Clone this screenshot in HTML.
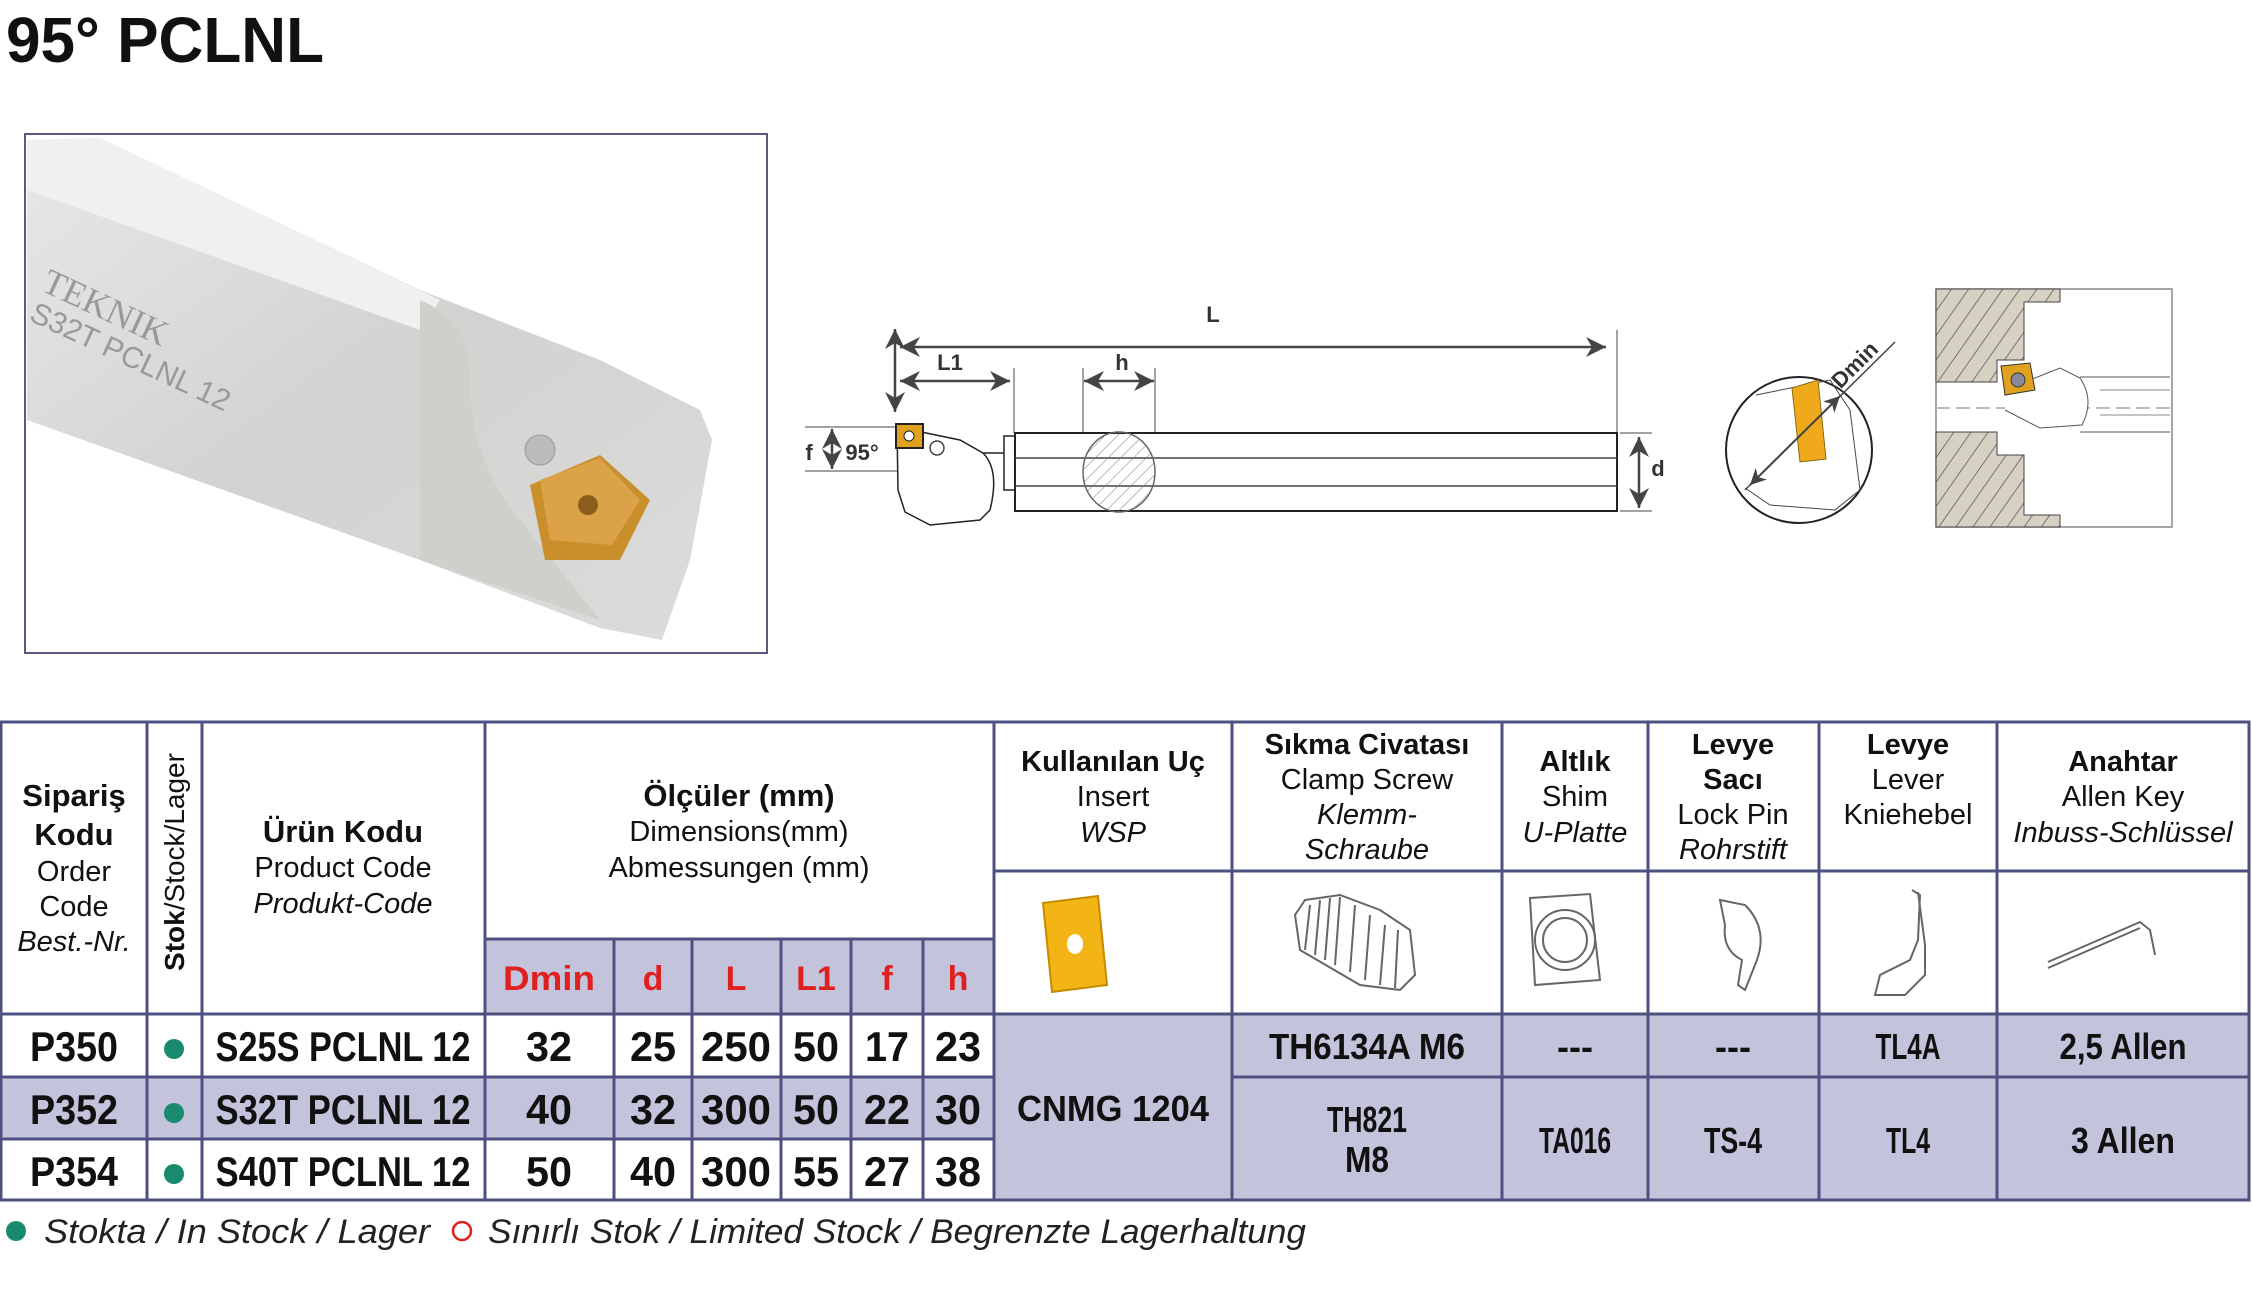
<!DOCTYPE html>
<html><head><meta charset="utf-8"><style>
html,body{margin:0;padding:0;background:#fff;}
svg{display:block;}
</style></head><body>
<svg width="2252" height="1295" viewBox="0 0 2252 1295" xmlns="http://www.w3.org/2000/svg" font-family="'Liberation Sans', sans-serif">
<defs>
<pattern id="hatch" width="14" height="14" patternUnits="userSpaceOnUse" patternTransform="rotate(35)">
<rect width="14" height="14" fill="#d6d1c2"/><line x1="0" y1="0" x2="0" y2="14" stroke="#555" stroke-width="1.5"/></pattern>
<pattern id="hatch2" width="9" height="9" patternUnits="userSpaceOnUse" patternTransform="rotate(45)">
<line x1="0" y1="0" x2="0" y2="9" stroke="#777" stroke-width="1"/></pattern>
<linearGradient id="bar" x1="0" y1="0" x2="1" y2="1">
<stop offset="0" stop-color="#e8e8e6"/><stop offset="0.5" stop-color="#d2d2d0"/><stop offset="1" stop-color="#dcdcda"/></linearGradient>
<marker id="ar" viewBox="0 0 10 10" refX="10" refY="5" markerWidth="8" markerHeight="8" orient="auto-start-reverse"><path d="M0,0 L10,5 L0,10 L3,5z" fill="#444"/></marker>
</defs>

<text x="6" y="62" font-size="64" font-weight="bold" fill="#111" textLength="318" lengthAdjust="spacingAndGlyphs">95° PCLNL</text>

<!-- photo -->
<rect x="25" y="134" width="742" height="519" fill="#fff" stroke="#5a5a80" stroke-width="2"/>
<polygon points="27,140 100,138 420,290 600,360 700,410 712,440 690,560 662,640 600,628 420,560 27,420" fill="url(#bar)"/>
<polygon points="27,140 100,138 440,300 420,330 27,190" fill="#f0f0ee"/>
<path d="M420,300 Q470,320 470,380 Q470,460 520,520 L600,620 L420,560 Z" fill="#cfcfcc"/>
<polygon points="530,485 600,455 650,500 620,560 545,560" fill="#c98f2c"/>
<polygon points="540,480 600,458 640,500 612,545 550,540" fill="#dba247"/>
<circle cx="588" cy="505" r="10" fill="#8a5d1c"/>
<circle cx="540" cy="450" r="15" fill="#bbb" stroke="#999"/>
<text x="40" y="290" font-size="36" fill="#999" transform="rotate(25 40 290)" font-family="'Liberation Serif',serif">TEKNIK</text>
<text x="28" y="320" font-size="30" fill="#999" transform="rotate(25 28 320)">S32T PCLNL 12</text>

<!-- main drawing -->
<g stroke="#444" fill="none" stroke-width="1.5">
<line x1="900" y1="347" x2="1606" y2="347" stroke-width="2.5" marker-start="url(#ar)" marker-end="url(#ar)"/>
<line x1="895" y1="329" x2="895" y2="412" stroke-width="2.5" marker-start="url(#ar)" marker-end="url(#ar)"/>
<line x1="900" y1="381" x2="1010" y2="381" stroke-width="2.5" marker-start="url(#ar)" marker-end="url(#ar)"/>
<line x1="1084" y1="381" x2="1154" y2="381" stroke-width="2.5" marker-start="url(#ar)" marker-end="url(#ar)"/>
<line x1="1639" y1="437" x2="1639" y2="508" stroke-width="2.5" marker-start="url(#ar)" marker-end="url(#ar)"/>
<line x1="832" y1="429" x2="832" y2="469" stroke-width="2.5" marker-start="url(#ar)" marker-end="url(#ar)"/>
<line x1="1014" y1="368" x2="1014" y2="433" stroke-width="1"/>
<line x1="1083" y1="368" x2="1083" y2="433" stroke-width="1"/>
<line x1="1155" y1="368" x2="1155" y2="433" stroke-width="1"/>
<line x1="1617" y1="330" x2="1617" y2="433" stroke-width="1"/>
<line x1="805" y1="427" x2="900" y2="427" stroke-width="1"/>
<line x1="805" y1="471" x2="898" y2="471" stroke-width="1"/>
<line x1="1620" y1="433" x2="1652" y2="433" stroke-width="1"/>
<line x1="1620" y1="511" x2="1652" y2="511" stroke-width="1"/>
<rect x="1015" y="433" width="602" height="78" stroke="#222" stroke-width="2"/>
<line x1="1015" y1="458" x2="1617" y2="458"/>
<line x1="1015" y1="486" x2="1617" y2="486"/>
<ellipse cx="1119" cy="472" rx="36" ry="40" fill="url(#hatch2)" stroke="#666"/>
<path d="M897,427 L960,440 L983,453 L1004,453 L1004,490 L1014,490 M1004,453 L1004,436 L1015,436 M983,453 Q1000,470 990,510 L980,520 L930,525 L905,512 L898,490 L897,427" stroke="#222"/>
<circle cx="937" cy="448" r="7"/>
</g>
<rect x="896" y="424" width="27" height="24" fill="#e0a21e" stroke="#222" stroke-width="2"/>
<circle cx="909" cy="436" r="5" fill="#fff" stroke="#222"/>
<g font-size="22" font-weight="bold" fill="#333" text-anchor="middle">
<text x="1213" y="322">L</text><text x="950" y="370">L1</text><text x="1122" y="370">h</text>
<text x="1658" y="476">d</text><text x="809" y="460">f</text><text x="862" y="460">95°</text>
</g>

<!-- circle diagram -->
<circle cx="1799" cy="450" r="73" fill="#fff" stroke="#222" stroke-width="2"/>
<path d="M1756,395 L1830,380 L1850,410 L1860,490 L1835,510 L1770,505 L1745,488" fill="none" stroke="#444" stroke-width="1"/>
<polygon points="1792,388 1818,380 1826,459 1800,462" fill="#f0a91a" stroke="#8a6a10"/>
<line x1="1745" y1="490" x2="1895" y2="342" stroke="#444" stroke-width="1.5"/>
<line x1="1750" y1="485" x2="1840" y2="396" stroke="#444" stroke-width="2" marker-start="url(#ar)" marker-end="url(#ar)"/>
<text x="1860" y="370" font-size="22" font-weight="bold" fill="#333" text-anchor="middle" transform="rotate(-45 1860 370)">Dmin</text>

<!-- section -->
<rect x="1936" y="289" width="236" height="238" fill="#fff" stroke="#888" stroke-width="1.5"/>
<polygon points="1936,289 2060,289 2060,302 2024,302 2024,360 1997,360 1997,382 1936,382" fill="url(#hatch)" stroke="#444"/>
<polygon points="1936,432 1997,432 1997,455 2024,455 2024,515 2060,515 2060,527 1936,527" fill="url(#hatch)" stroke="#444"/>
<line x1="1936" y1="408" x2="2172" y2="408" stroke="#bbb" stroke-width="2" stroke-dasharray="14 6"/>
<path d="M2005,390 L2060,368 L2080,378 Q2095,400 2082,425 L2040,428 L2005,410" fill="#fff" stroke="#555"/>
<line x1="2080" y1="377" x2="2170" y2="377" stroke="#555"/><line x1="2080" y1="432" x2="2170" y2="432" stroke="#555"/>
<line x1="2100" y1="390" x2="2170" y2="390" stroke="#888"/><line x1="2100" y1="415" x2="2170" y2="415" stroke="#888"/>
<polygon points="2001,366 2030,363 2035,390 2005,395" fill="#e0a21e" stroke="#333"/>
<circle cx="2018" cy="380" r="7" fill="#889" stroke="#333"/>

<!-- table -->
<g fill="#c3c3dc">
<rect x="485" y="939" width="509" height="75"/>
<rect x="0" y="1077" width="994" height="62"/>
<rect x="994" y="1014" width="1255" height="186"/>
</g>
<g stroke="#4d5080" stroke-width="3" fill="none">
<rect x="1" y="722" width="2248" height="478"/>
<line x1="1" y1="1014" x2="2249" y2="1014"/>
<line x1="1" y1="1077" x2="994" y2="1077"/>
<line x1="1" y1="1139" x2="994" y2="1139"/>
<line x1="1232" y1="1077" x2="2249" y2="1077"/>
<line x1="485" y1="939" x2="994" y2="939"/>
<line x1="994" y1="871" x2="2249" y2="871"/>
<line x1="147" y1="722" x2="147" y2="1200"/>
<line x1="202" y1="722" x2="202" y2="1200"/>
<line x1="485" y1="722" x2="485" y2="1200"/>
<line x1="614" y1="939" x2="614" y2="1200"/>
<line x1="692" y1="939" x2="692" y2="1200"/>
<line x1="781" y1="939" x2="781" y2="1200"/>
<line x1="851" y1="939" x2="851" y2="1200"/>
<line x1="923" y1="939" x2="923" y2="1200"/>
<line x1="994" y1="722" x2="994" y2="1200"/>
<line x1="1232" y1="722" x2="1232" y2="1200"/>
<line x1="1502" y1="722" x2="1502" y2="1200"/>
<line x1="1648" y1="722" x2="1648" y2="1200"/>
<line x1="1819" y1="722" x2="1819" y2="1200"/>
<line x1="1997" y1="722" x2="1997" y2="1200"/>
</g>

<g text-anchor="middle" fill="#111" font-size="29">
<text x="74" y="806" font-weight="bold" font-size="31">Sipariş</text>
<text x="74" y="845" font-weight="bold" font-size="31">Kodu</text>
<text x="74" y="881">Order</text><text x="74" y="916">Code</text>
<text x="74" y="951" font-style="italic">Best.-Nr.</text>
<text x="184" y="862" font-size="28" transform="rotate(-90 184 862)"><tspan font-weight="bold">Stok</tspan>/Stock/Lager</text>
<text x="343" y="842" font-weight="bold" font-size="31">Ürün Kodu</text>
<text x="343" y="877">Product Code</text>
<text x="343" y="913" font-style="italic">Produkt-Code</text>
<text x="739" y="806" font-weight="bold" font-size="31">Ölçüler (mm)</text>
<text x="739" y="841">Dimensions(mm)</text>
<text x="739" y="877">Abmessungen (mm)</text>
<g font-weight="bold" fill="#e0201f" font-size="34">
<text x="549" y="990" textLength="92" lengthAdjust="spacingAndGlyphs">Dmin</text><text x="653" y="990">d</text><text x="736" y="990">L</text>
<text x="816" y="990">L1</text><text x="887" y="990">f</text><text x="958" y="990">h</text></g>
<text x="1113" y="771" font-weight="bold">Kullanılan Uç</text>
<text x="1113" y="806">Insert</text><text x="1113" y="842" font-style="italic">WSP</text>
<text x="1367" y="754" font-weight="bold">Sıkma Civatası</text>
<text x="1367" y="789">Clamp Screw</text>
<text x="1367" y="824" font-style="italic">Klemm-</text>
<text x="1367" y="859" font-style="italic">Schraube</text>
<text x="1575" y="771" font-weight="bold">Altlık</text>
<text x="1575" y="806">Shim</text><text x="1575" y="842" font-style="italic">U-Platte</text>
<text x="1733" y="754" font-weight="bold">Levye</text>
<text x="1733" y="789" font-weight="bold">Sacı</text>
<text x="1733" y="824">Lock Pin</text>
<text x="1733" y="859" font-style="italic">Rohrstift</text>
<text x="1908" y="754" font-weight="bold">Levye</text>
<text x="1908" y="789">Lever</text><text x="1908" y="824">Kniehebel</text>
<text x="2123" y="771" font-weight="bold">Anahtar</text>
<text x="2123" y="806">Allen Key</text>
<text x="2123" y="842" font-style="italic">Inbuss-Schlüssel</text>
</g>

<g text-anchor="middle" fill="#111" font-size="42" font-weight="bold" lengthAdjust="spacingAndGlyphs">
<text x="74" y="1061" textLength="88" lengthAdjust="spacingAndGlyphs">P350</text><text x="74" y="1124" textLength="88" lengthAdjust="spacingAndGlyphs">P352</text><text x="74" y="1186" textLength="88" lengthAdjust="spacingAndGlyphs">P354</text>
<text x="343" y="1061" textLength="255" lengthAdjust="spacingAndGlyphs">S25S PCLNL 12</text><text x="343" y="1124" textLength="255" lengthAdjust="spacingAndGlyphs">S32T PCLNL 12</text><text x="343" y="1186" textLength="255" lengthAdjust="spacingAndGlyphs">S40T PCLNL 12</text>
<g>
<text x="549" y="1061" textLength="46" lengthAdjust="spacingAndGlyphs">32</text><text x="653" y="1061" textLength="46" lengthAdjust="spacingAndGlyphs">25</text><text x="736" y="1061" textLength="70" lengthAdjust="spacingAndGlyphs">250</text><text x="816" y="1061" textLength="46" lengthAdjust="spacingAndGlyphs">50</text><text x="887" y="1061" textLength="44" lengthAdjust="spacingAndGlyphs">17</text><text x="958" y="1061" textLength="46" lengthAdjust="spacingAndGlyphs">23</text>
<text x="549" y="1124" textLength="46" lengthAdjust="spacingAndGlyphs">40</text><text x="653" y="1124" textLength="46" lengthAdjust="spacingAndGlyphs">32</text><text x="736" y="1124" textLength="70" lengthAdjust="spacingAndGlyphs">300</text><text x="816" y="1124" textLength="46" lengthAdjust="spacingAndGlyphs">50</text><text x="887" y="1124" textLength="46" lengthAdjust="spacingAndGlyphs">22</text><text x="958" y="1124" textLength="46" lengthAdjust="spacingAndGlyphs">30</text>
<text x="549" y="1186" textLength="46" lengthAdjust="spacingAndGlyphs">50</text><text x="653" y="1186" textLength="46" lengthAdjust="spacingAndGlyphs">40</text><text x="736" y="1186" textLength="70" lengthAdjust="spacingAndGlyphs">300</text><text x="816" y="1186" textLength="46" lengthAdjust="spacingAndGlyphs">55</text><text x="887" y="1186" textLength="46" lengthAdjust="spacingAndGlyphs">27</text><text x="958" y="1186" textLength="46" lengthAdjust="spacingAndGlyphs">38</text>
</g>
<g font-size="36">
<text x="1113" y="1121" textLength="192" lengthAdjust="spacingAndGlyphs">CNMG 1204</text>
<text x="1367" y="1059" textLength="196" lengthAdjust="spacingAndGlyphs">TH6134A M6</text><text x="1575" y="1059">---</text><text x="1733" y="1059">---</text>
<text x="1908" y="1059" textLength="65" lengthAdjust="spacingAndGlyphs">TL4A</text><text x="2123" y="1059" textLength="127" lengthAdjust="spacingAndGlyphs">2,5 Allen</text>
<text x="1367" y="1132" textLength="80" lengthAdjust="spacingAndGlyphs">TH821</text><text x="1367" y="1172" textLength="44" lengthAdjust="spacingAndGlyphs">M8</text>
<text x="1575" y="1153" textLength="72" lengthAdjust="spacingAndGlyphs">TA016</text><text x="1733" y="1153" textLength="58" lengthAdjust="spacingAndGlyphs">TS-4</text>
<text x="1908" y="1153" textLength="44" lengthAdjust="spacingAndGlyphs">TL4</text><text x="2123" y="1153" textLength="104" lengthAdjust="spacingAndGlyphs">3 Allen</text>
</g></g>
<g fill="#1a8a6e"><circle cx="174" cy="1049" r="10"/><circle cx="174" cy="1113" r="10"/><circle cx="174" cy="1174" r="10"/></g>

<!-- part icons -->
<polygon points="1043,903 1098,896 1107,985 1052,992" fill="#f2b515" stroke="#c48a00" stroke-width="2"/>
<ellipse cx="1075" cy="944" rx="8" ry="10" fill="#fff"/>
<g fill="none" stroke="#666" stroke-width="2">
<path d="M1305,900 L1340,895 L1380,910 L1410,930 L1415,975 L1400,990 L1360,985 L1300,950 L1295,915 Z"/>
<path d="M1310,905 L1305,950 M1320,900 L1315,955 M1330,898 L1325,960 M1340,897 L1335,965 M1355,905 L1350,972 M1370,915 L1365,980 M1385,925 L1380,985 M1398,930 L1395,988"/>
<path d="M1530,898 L1590,894 L1600,980 L1535,985 Z"/><circle cx="1565" cy="940" r="22"/><circle cx="1565" cy="940" r="30"/>
<path d="M1720,900 L1745,905 Q1770,930 1755,965 L1745,990 L1738,985 L1742,960 Q1722,950 1725,925 Z"/>
<path d="M1912,890 L1920,895 L1918,940 L1910,960 L1880,975 L1875,995 L1905,995 L1925,975 L1925,945 L1918,892"/>
<path d="M2048,962 L2140,922 L2150,930 L2155,955 M2048,968 L2140,928"/>
</g>

<!-- legend -->
<circle cx="16" cy="1231" r="10" fill="#1a8a6e"/>
<circle cx="462" cy="1231" r="9" fill="none" stroke="#e0201f" stroke-width="2.5"/>
<text x="44" y="1243" font-size="34" font-style="italic" fill="#222" textLength="386" lengthAdjust="spacingAndGlyphs">Stokta / In Stock / Lager</text>
<text x="488" y="1243" font-size="34" font-style="italic" fill="#222" textLength="818" lengthAdjust="spacingAndGlyphs">Sınırlı Stok / Limited Stock / Begrenzte Lagerhaltung</text>
</svg>
</body></html>
